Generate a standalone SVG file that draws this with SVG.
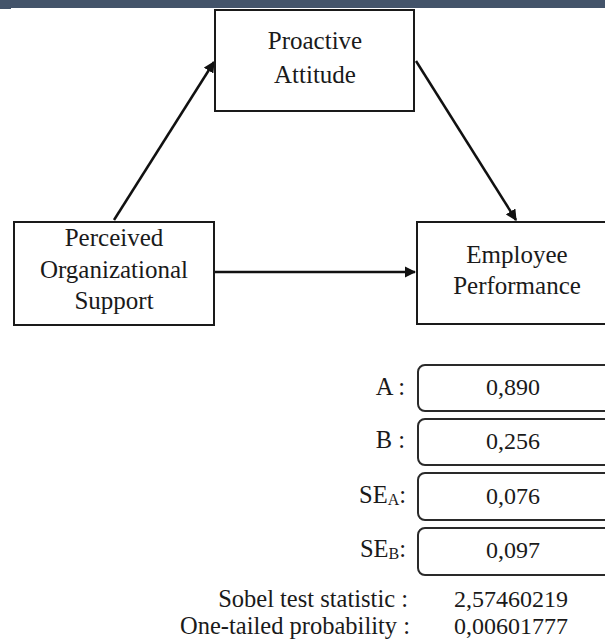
<svg xmlns="http://www.w3.org/2000/svg" width="605" height="642" viewBox="0 0 605 642">
<defs>
<style>
.box{fill:#fff;stroke:#1a1a1a;stroke-width:2}
.vbox{fill:#fff;stroke:#2a2a2a;stroke-width:2}
.t{font-family:"Liberation Serif","Times New Roman",serif;font-size:25px;fill:#1a1a1a;text-anchor:middle}
.lab{font-family:"Liberation Serif","Times New Roman",serif;font-size:24.5px;fill:#1a1a1a;text-anchor:end}
.val{font-family:"Liberation Serif","Times New Roman",serif;font-size:24px;fill:#1a1a1a;text-anchor:middle}
.conn{stroke:#111;stroke-width:2.5;fill:none;marker-end:url(#ah)}
</style>
<marker id="ah" viewBox="0 0 10 10" refX="9" refY="5" markerWidth="4.5" markerHeight="4.5" orient="auto" markerUnits="strokeWidth">
<path d="M0,0 L10,5 L0,10 z" fill="#111"/>
</marker>
</defs>
<rect x="0" y="0" width="605" height="8" fill="#44546a"/>
<rect x="0" y="0" width="11" height="9" fill="#44546a"/>

<g id="connectors">
<line class="conn" x1="114" y1="220" x2="214" y2="62"/>
<line class="conn" x1="416" y1="61" x2="516" y2="220"/>
<line class="conn" x1="215" y1="272" x2="415" y2="272"/>
</g>

<g id="proactive">
<rect class="box" x="215" y="10" width="199" height="101"/>
<text class="t" x="315" y="49">Proactive</text>
<text class="t" x="315" y="83">Attitude</text>
</g>

<g id="perceived">
<rect class="box" x="14" y="222" width="200" height="103"/>
<text class="t" x="114" y="246">Perceived</text>
<text class="t" x="114" y="278">Organizational</text>
<text class="t" x="114" y="309">Support</text>
</g>

<g id="employee">
<rect class="box" x="417" y="222" width="200" height="102"/>
<text class="t" x="517" y="263">Employee</text>
<text class="t" x="517" y="294">Performance</text>
</g>

<g id="row-a">
<text class="lab" x="405" y="395">A :</text>
<rect class="vbox" x="418" y="365" width="200" height="46" rx="7"/>
<text class="val" x="513" y="395">0,890</text>
</g>
<g id="row-b">
<text class="lab" x="405" y="448">B :</text>
<rect class="vbox" x="418" y="419" width="200" height="46" rx="7"/>
<text class="val" x="513" y="449">0,256</text>
</g>
<g id="row-sea">
<text class="lab" x="406" y="503">SE<tspan font-size="16" dy="2">A</tspan><tspan dy="-2">:</tspan></text>
<rect class="vbox" x="418" y="473" width="200" height="47" rx="7"/>
<text class="val" x="513" y="504">0,076</text>
</g>
<g id="row-seb">
<text class="lab" x="406" y="557">SE<tspan font-size="16" dy="2">B</tspan><tspan dy="-2">:</tspan></text>
<rect class="vbox" x="418" y="528" width="200" height="47" rx="7"/>
<text class="val" x="513" y="558">0,097</text>
</g>
<g id="row-sobel">
<text class="lab" x="408" y="607">Sobel test statistic :</text>
<text class="val" x="511" y="607">2,57460219</text>
</g>
<g id="row-prob">
<text class="lab" x="410" y="634">One-tailed probability :</text>
<text class="val" x="511" y="634">0,00601777</text>
</g>
</svg>
